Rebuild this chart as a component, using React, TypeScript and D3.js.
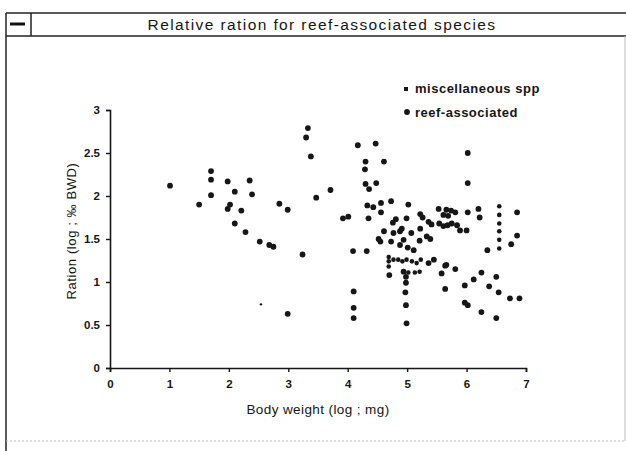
import React, { useEffect, useRef } from "react";
import * as d3 from "d3";

const title = "Relative ration for reef-associated species";
const xLabel = "Body weight (log ; mg)";
const yLabel = "Ration (log ; ‰ BWD)";
const xTicks = [0, 1, 2, 3, 4, 5, 6, 7];
const yTicks = [0, 0.5, 1, 1.5, 2, 2.5, 3];
const seriesNames = ["miscellaneous spp", "reef-associated"];

// reef-associated: [log body weight, log ration]
const reefX = [
  1.01, 1.5, 1.7, 1.7, 1.7, 1.98, 2.1, 1.98, 2.02, 2.21, 2.1, 2.28, 2.35, 2.39, 2.52, 2.68, 2.75, 2.85, 2.99, 3.24,
  3.33, 3.3, 3.38, 3.47, 3.71, 3.92, 4.01, 4.09, 4.32, 4.17, 4.47, 4.3, 4.29, 4.61, 4.3, 4.36, 4.48, 4.33, 4.43, 4.56,
  4.73, 4.56, 4.35, 2.99, 4.1, 4.1, 4.1, 4.98, 4.97, 4.98, 4.99, 4.98, 5.64, 5.97, 5.97, 6.02, 6.25, 6.38, 6.54, 6.5,
  6.73, 6.89, 6.12, 6.25, 6.5, 6.02, 6.02, 6.85, 6.85, 6.75, 6.35, 6.2, 6.22, 6.02, 6.0, 5.64, 5.81, 5.58, 5.02, 5.53,
  5.66, 5.74, 5.81, 5.61, 5.69, 5.22, 5.26, 4.99, 4.81, 4.76, 5.36, 5.41, 5.54, 5.61, 5.68, 5.75, 5.84, 5.89, 4.91, 4.88,
  5.22, 4.61, 4.77, 5.07, 5.33, 5.39, 4.52, 4.55, 4.73, 4.94, 5.21, 4.88, 5.01, 5.11, 4.7, 4.94, 5.36, 5.45, 5.66,
];
const reefY = [
  2.12, 1.9, 2.29, 2.19, 2.01, 2.17, 2.05, 1.85, 1.9, 1.83, 1.68, 1.58, 2.18, 2.02, 1.47, 1.43, 1.41, 1.91, 1.84, 1.32,
  2.79, 2.68, 2.46, 1.98, 2.07, 1.74, 1.76, 1.36, 1.36, 2.59, 2.61, 2.4, 2.31, 2.4, 2.14, 2.08, 2.15, 1.89, 1.87, 1.92,
  1.94, 1.81, 1.74, 0.63, 0.89, 0.7, 0.58, 0.99, 0.88, 0.73, 0.52, 1.06, 0.92, 0.96, 0.76, 0.73, 0.65, 0.95, 0.88, 0.58,
  0.81, 0.81, 1.03, 1.11, 1.06, 2.5, 2.15, 1.81, 1.54, 1.44, 1.37, 1.85, 1.75, 1.81, 1.6, 1.19, 1.15, 1.1, 1.9, 1.85,
  1.84, 1.83, 1.81, 1.78, 1.77, 1.79, 1.75, 1.74, 1.73, 1.69, 1.7, 1.67, 1.68, 1.65, 1.66, 1.68, 1.66, 1.6, 1.62, 1.59,
  1.62, 1.59, 1.57, 1.57, 1.53, 1.5, 1.5, 1.47, 1.47, 1.49, 1.48, 1.43, 1.4, 1.37, 1.08, 1.12, 1.22, 1.26, 1.2,
];

// miscellaneous spp
const miscX = [
  2.54, 6.55, 6.55, 6.55, 6.55, 6.55, 6.55, 4.69, 4.69, 4.69, 4.77, 4.85, 4.92, 4.99, 5.08, 5.16, 5.23, 5.02, 5.13,
  5.21, 4.98,
];
const miscY = [
  0.74, 1.88, 1.78, 1.68, 1.59, 1.49, 1.39, 1.29, 1.24, 1.18, 1.26, 1.26, 1.24, 1.26, 1.24, 1.22, 1.26, 1.11, 1.11,
  1.12, 1.0,
];

const W = 626;
const H = 451;
const margin = { top: 110, right: 100, bottom: 83, left: 110 };
const ink = "#161616";
const font = "Liberation Sans, Arial, sans-serif";

export default function App() {
  const xAxisRef = useRef<SVGGElement>(null);
  const yAxisRef = useRef<SVGGElement>(null);

  const x = d3.scaleLinear().domain([0, 7]).range([margin.left, W - margin.right]);
  const y = d3.scaleLinear().domain([0, 3]).range([H - margin.bottom, margin.top]);

  useEffect(() => {
    const gx = d3.select(xAxisRef.current);
    gx.selectAll("*").remove();
    gx.call(d3.axisBottom(x).tickValues(xTicks).tickSize(4).tickPadding(8).tickFormat(d3.format("d")));
    const gy = d3.select(yAxisRef.current);
    gy.selectAll("*").remove();
    gy.call(d3.axisLeft(y).tickValues(yTicks).tickSize(4).tickPadding(6).tickFormat((d) => String(d)));
    [gx, gy].forEach((g) => {
      g.select(".domain").attr("stroke", ink).attr("stroke-width", 1.6);
      g.selectAll(".tick line").attr("stroke", ink).attr("stroke-width", 1.4);
      g.selectAll(".tick text")
        .attr("fill", ink)
        .attr("font-family", font)
        .attr("font-weight", "bold")
        .attr("font-size", 11.5);
    });
  }, []);

  const reef = reefX.map((v, i) => [v, reefY[i]]);
  const misc = miscX.map((v, i) => [v, miscY[i]]);

  return (
    <svg width={W} height={H} style={{ position: "absolute", left: 0, top: 0, background: "#fff" }}>
      {/* window frame */}
      <line x1={6} x2={W} y1={13} y2={13} stroke="#222" strokeWidth={1.5} />
      <line x1={6} x2={W} y1={36} y2={36} stroke="#222" strokeWidth={1.5} />
      <line x1={6} x2={6} y1={13} y2={H} stroke="#222" strokeWidth={1.5} />
      <line x1={31} x2={31} y1={13} y2={36} stroke="#222" strokeWidth={1.5} />
      <line x1={W - 1} x2={W - 1} y1={36} y2={441} stroke="#bbb" strokeWidth={1} />
      <line x1={6} x2={W} y1={441} y2={441} stroke="#bbb" strokeWidth={1} strokeDasharray="2 2" />
      <line x1={10} x2={25} y1={24} y2={24} stroke="#111" strokeWidth={3} />
      <text x={322} y={30} textAnchor="middle" fontFamily={font} fontSize={15.5} letterSpacing={1.4} fill={ink}>
        {title}
      </text>

      <g ref={xAxisRef} transform={`translate(0,${H - margin.bottom})`} />
      <g ref={yAxisRef} transform={`translate(${margin.left},0)`} />

      <text x={318} y={414} textAnchor="middle" fontFamily={font} fontSize={13.5} letterSpacing={0.4} fill={ink}>
        {xLabel}
      </text>
      <text
        transform={`translate(76,231) rotate(-90)`}
        textAnchor="middle"
        fontFamily={font}
        fontSize={13}
        letterSpacing={0.6}
        fill={ink}
      >
        {yLabel}
      </text>

      {reef.map((d, i) => (
        <circle key={`r${i}`} cx={x(d[0])} cy={y(d[1])} r={2.9} fill={ink} />
      ))}
      {misc.map((d, i) => (
        <circle key={`m${i}`} cx={x(d[0])} cy={y(d[1])} r={i === 0 ? 1.2 : 2.3} fill={ink} />
      ))}

      {/* legend */}
      <g fontFamily={font} fontSize={13} fontWeight="bold" letterSpacing={0.5} fill={ink}>
        <rect x={404} y={87} width={4} height={4} fill={ink} />
        <text x={415} y={93}>
          {seriesNames[0]}
        </text>
        <circle cx={407} cy={112} r={2.9} fill={ink} />
        <text x={415} y={117}>
          {seriesNames[1]}
        </text>
      </g>
    </svg>
  );
}
